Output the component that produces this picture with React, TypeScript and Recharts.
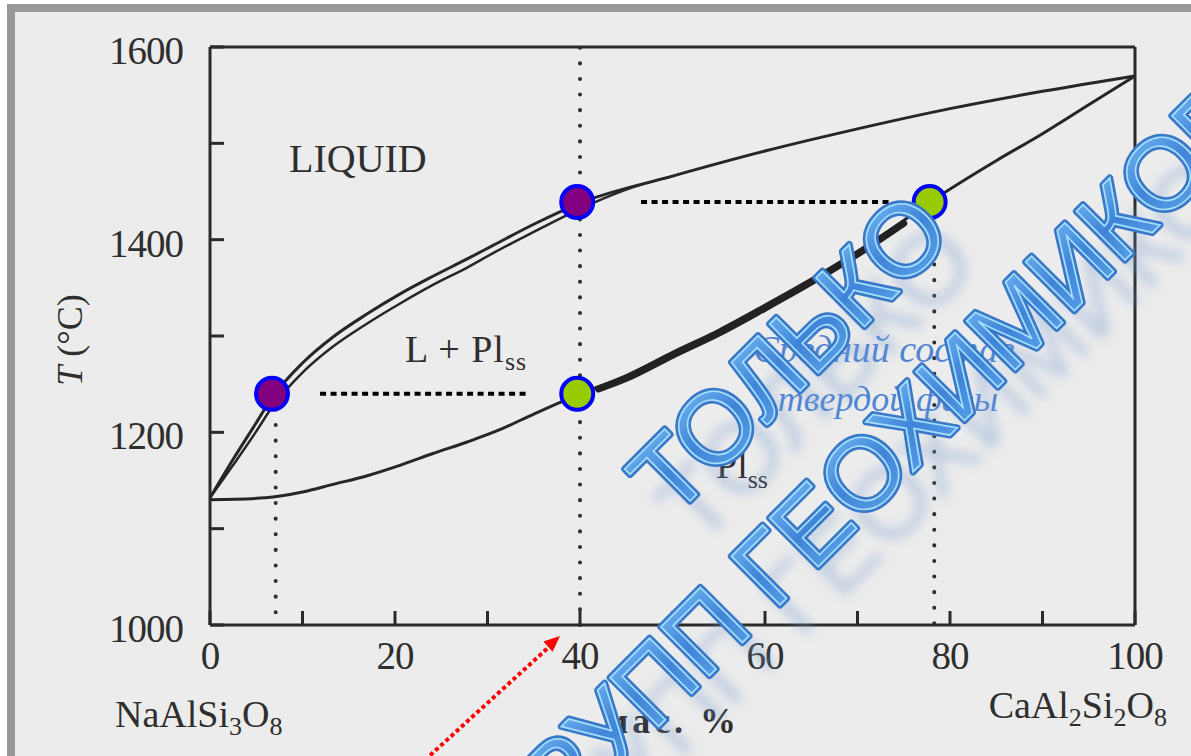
import React from 'react';
import { ComposedChart, Line, Scatter, XAxis, YAxis, ReferenceLine } from 'recharts';

// состав, мас.% CaAl2Si2O8 -> температура, °C
const liquidusX = [0, 2.5, 5, 6.7, 10, 13.3, 17, 20.6, 24.1, 27.8, 30.6, 35, 40, 50, 60, 70, 80, 90, 100];
const liquidusT = [1132, 1172, 1210, 1236, 1272, 1299, 1323, 1344, 1362, 1380, 1394, 1416, 1438, 1466, 1492, 1515, 1536, 1554, 1570];
const liquidus2X = [0, 2.5, 5, 6.7, 10, 13.3, 17, 20.6, 24.1, 27.8, 30.6, 35, 40, 45, 50];
const liquidus2T = [1132, 1166, 1201, 1226, 1262, 1289, 1313, 1334, 1353, 1371, 1386, 1408, 1432, 1452, 1466];
const solidusX = [0, 6, 10, 13.3, 17, 20.6, 24.1, 27.8, 31.4, 35, 40, 45, 50, 55, 60, 65, 70, 75, 78, 85, 90, 95, 100];
const solidusT = [1130, 1132, 1138, 1146, 1155, 1166, 1178, 1190, 1203, 1219, 1240, 1259, 1283, 1306, 1332, 1359, 1388, 1420, 1440, 1482, 1510, 1540, 1570];
const bandX = [42, 45, 50, 55, 60, 65, 70, 75];
const bandT = [1245, 1256, 1280, 1303, 1329, 1356, 1385, 1417];

const liquidDotX = [6.7, 39.7];
const liquidDotT = [1240, 1439];
const solidDotX = [39.7, 77.8];
const solidDotT = [1240, 1439];

const tieT = [1240, 1439];
const tieFrom = [11.9, 46.6];
const tieTo = [34.5, 73.7];
const dropX = [7.1, 78.3];
const dropTop = [1240, 1439];

const xTicks = [0, 10, 20, 30, 40, 50, 60, 70, 80, 90, 100];
const xLabels = [0, 20, 40, 60, 80, 100];
const yTicks = [1000, 1100, 1200, 1300, 1400, 1500, 1600];
const yLabels = [1000, 1200, 1400, 1600];

const pts = (xs: number[], ts: number[]) => xs.map((x, i) => ({ x, T: ts[i] }));

const serif = "'Liberation Serif', 'Times New Roman', serif";
const ink = '#2e2e2e';

const XTick = (props: any) => {
  const { x, payload } = props;
  if (!xLabels.includes(payload.value)) return <g />;
  return (
    <text x={x} y={669} textAnchor="middle" fontFamily={serif} fontSize={39} fill={ink} letterSpacing={-1}>
      {payload.value}
    </text>
  );
};

const YTick = (props: any) => {
  const { y, payload } = props;
  if (!yLabels.includes(payload.value)) return <g />;
  return (
    <text x={183} y={y + 17} textAnchor="end" fontFamily={serif} fontSize={39} fill={ink} letterSpacing={-1}>
      {payload.value}
    </text>
  );
};

const Marker = (fill: string) => (p: any) => (
  <circle cx={p.cx} cy={p.cy} r={16} fill={fill} stroke="#0000ff" strokeWidth={4} />
);

export default function App() {
  const axisLine = { stroke: '#2a2a2a', strokeWidth: 3 };
  const tickLine = { stroke: '#2a2a2a', strokeWidth: 3 };
  const wm1 = 'ТОЛЬКО';
  const wm2 = 'ГРУПП ГЕОХИМИКОВ';
  return (
    <div style={{ position: 'absolute', left: 0, top: 0, width: 1191, height: 756, background: '#fff', overflow: 'hidden' }}>
      <div
        style={{
          position: 'absolute', left: 7, top: 4, width: 1200, height: 760,
          border: '8px solid #999', background: '#ececec', boxSizing: 'border-box',
        }}
      />
      <div style={{ position: 'absolute', left: 0, top: 0 }}>
        <ComposedChart width={1191} height={756} margin={{ top: 37, right: 46, bottom: 71, left: 110 }}>
          <XAxis dataKey="x" type="number" domain={[0, 100]} ticks={xTicks} tickSize={-14} tickMargin={0}
            axisLine={axisLine} tickLine={tickLine} tick={<XTick />} height={60} interval={0} />
          <XAxis xAxisId="top" orientation="top" dataKey="x" type="number" domain={[0, 100]} ticks={xTicks}
            tickSize={-14} axisLine={axisLine} tickLine={tickLine} tick={false} height={10} interval={0} />
          <YAxis dataKey="T" type="number" domain={[1000, 1600]} ticks={yTicks} tickSize={-14} tickMargin={0}
            axisLine={axisLine} tickLine={tickLine} tick={<YTick />} width={100} interval={0} />
          <YAxis yAxisId="right" orientation="right" type="number" domain={[1000, 1600]} ticks={yTicks}
            tickSize={-14} axisLine={axisLine} tickLine={tickLine} tick={false} width={10} interval={0} />

          <ReferenceLine x={40} stroke={ink} strokeWidth={4} strokeDasharray="0.1 15.5" strokeLinecap="round" />
          {dropX.map((x, i) => (
            <ReferenceLine key={'d' + i} segment={[{ x, y: dropTop[i] }, { x, y: 1000 }]} stroke={ink}
              strokeWidth={4} strokeDasharray="0.1 15.5" strokeLinecap="round" />
          ))}
          {tieT.map((t, i) => (
            <ReferenceLine key={'t' + i} segment={[{ x: tieFrom[i], y: t }, { x: tieTo[i], y: t }]}
              stroke="#000" strokeWidth={4} strokeDasharray="6 4.5" />
          ))}

          <Line data={pts(liquidusX, liquidusT)} dataKey="T" type="monotone" stroke="#262626" strokeWidth={3} dot={false} isAnimationActive={false} />
          <Line data={pts(liquidus2X, liquidus2T)} dataKey="T" type="monotone" stroke="#262626" strokeWidth={2.5} dot={false} isAnimationActive={false} />
          <Line data={pts(solidusX, solidusT)} dataKey="T" type="monotone" stroke="#262626" strokeWidth={3} dot={false} isAnimationActive={false} />
          <Line data={pts(bandX, bandT)} dataKey="T" type="monotone" stroke="#222" strokeWidth={7} strokeLinecap="round" dot={false} isAnimationActive={false} />

          <Scatter data={pts(liquidDotX, liquidDotT)} dataKey="T" shape={Marker('#800080')} isAnimationActive={false} />
          <Scatter data={pts(solidDotX, solidDotT)} dataKey="T" shape={Marker('#99cc00')} isAnimationActive={false} />
        </ComposedChart>
      </div>

      <svg width={1191} height={756} style={{ position: 'absolute', left: 0, top: 0, pointerEvents: 'none' }}>
        <defs>
          <linearGradient id="wa" x1="0" y1="0" x2="0" y2="1">
            <stop offset="0" stopColor="#78bdf4" />
            <stop offset="0.5" stopColor="#3f84d8" />
            <stop offset="1" stopColor="#5ea6ea" />
          </linearGradient>
          <filter id="blur" x="-20%" y="-20%" width="140%" height="140%">
            <feGaussianBlur stdDeviation="6" />
          </filter>
        </defs>

        <g fontFamily={serif} fill={ink}>
          <text x={289} y={172} fontSize={40}>LIQUID</text>
          <text x={405} y={362} fontSize={38} letterSpacing={1}>
            L + Pl<tspan fontSize={26} dy={8}>ss</tspan>
          </text>
          <text x={716} y={478} fontSize={38}>
            Pl<tspan fontSize={26} dy={10}>ss</tspan>
          </text>
          <text transform="translate(82,340) rotate(-90)" textAnchor="middle" fontSize={36}>
            <tspan fontStyle="italic">T</tspan> (°C)
          </text>
          <text x={115} y={727} fontSize={38}>
            NaAlSi<tspan fontSize={26} dy={8}>3</tspan>
            <tspan dy={-8}>O</tspan>
            <tspan fontSize={26} dy={8}>8</tspan>
          </text>
          <text x={1167} y={718} fontSize={38} textAnchor="end">
            CaAl<tspan fontSize={26} dy={8}>2</tspan>
            <tspan dy={-8}>Si</tspan>
            <tspan fontSize={26} dy={8}>2</tspan>
            <tspan dy={-8}>O</tspan>
            <tspan fontSize={26} dy={8}>8</tspan>
          </text>
          <text x={672} y={733} fontSize={36} fontWeight="bold" textAnchor="middle" letterSpacing={4}>мас. %</text>
        </g>

        <g fontFamily={serif} fontStyle="italic" fill="#4f85d4" textAnchor="middle">
          <text x={884} y={362} fontSize={38}>Средний состав</text>
          <text x={888} y={411} fontSize={36}>твердой фазы</text>
        </g>

        {/* красная стрелка */}
        <line x1={425} y1={760} x2={550} y2={646} stroke="#ff0000" strokeWidth={4} strokeDasharray="4 3" />
        <polygon points="560,636 552.6,651.8 543.4,641.4" fill="#ff0000" />

        {/* водяной знак */}
        <g fontFamily="'Liberation Sans', Arial, sans-serif" fontSize={100} textAnchor="middle">
          <g filter="url(#blur)" opacity={0.45} fill="#7c9fd0">
            <text transform="translate(840,407) rotate(-45)">{wm1}</text>
            <text transform="translate(920,521) rotate(-45)">{wm2}</text>
          </g>
          <g fill="none" stroke="#3a78c8" strokeWidth={7} strokeLinejoin="round">
            <text transform="translate(813,378) rotate(-45)">{wm1}</text>
            <text transform="translate(893,492) rotate(-45)">{wm2}</text>
          </g>
          <g fill="url(#wa)" stroke="#a6e0ff" strokeWidth={1.6}>
            <text transform="translate(813,378) rotate(-45)">{wm1}</text>
            <text transform="translate(893,492) rotate(-45)">{wm2}</text>
          </g>
        </g>
      </svg>
    </div>
  );
}
